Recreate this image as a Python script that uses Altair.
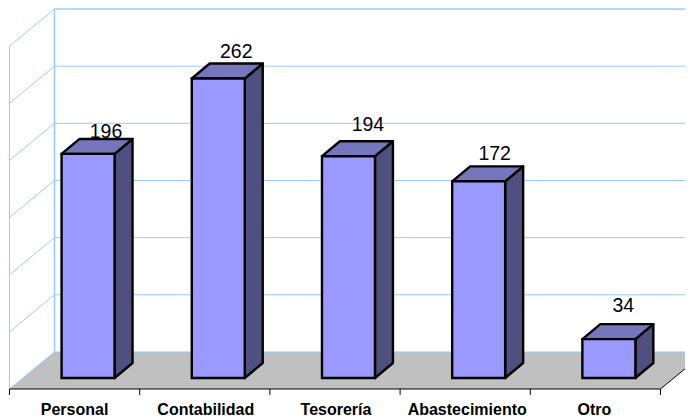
import altair as alt
import pandas as pd

categories = ["Personal", "Contabilidad", "Tesorería", "Abastecimiento", "Otro"]
values = [196, 262, 194, 172, 34]
grid_values = [0, 50, 100, 150, 200, 250]
axis_top = 300

# layout constants, in scale units (slots on x, chart value on y)
BAR_L, BAR_W, BAR_DX, BAR_DY = 0.4, 0.407, 0.138, 13.1
BASE = -22.75
WALL_DX, WALL_DY = 0.3456, 32.4
n = len(categories)

label_dx = [0, 0, 1.5, -2, -3.5]
label_dy = [-7, -11, -16, -12, -18]
cat_dx = [0, 1, 1, 2, -1]

X = alt.Scale(domain=[-0.01152, 5.1882], range=[0, 677], nice=False, zero=False)
Y = alt.Scale(domain=[-56.9, 300.9], range=[409, 0], nice=False, zero=False)
x_ = lambda f: alt.X(f, type="quantitative", scale=X, axis=None)
y_ = lambda f: alt.Y(f, type="quantitative", scale=Y, axis=None)
x2_ = lambda f: alt.X2(f)
y2_ = lambda f: alt.Y2(f)

floor = pd.DataFrame([
    {"y": -WALL_DY, "x": 0, "x2": n},
    {"y": 0, "x": WALL_DX, "x2": n + WALL_DX},
])
front, side, top = [], [], []
for i, (c, v) in enumerate(zip(categories, values)):
    l = i + BAR_L
    r = l + BAR_W
    t = BASE + v
    front.append({"c": c, "x": l, "x2": r, "y": BASE, "y2": t})
    side.append({"c": c, "x": r, "y": BASE, "y2": t})
    side.append({"c": c, "x": r + BAR_DX, "y": BASE + BAR_DY, "y2": t + BAR_DY})
    top.append({"c": c, "y": t, "x": l, "x2": r})
    top.append({"c": c, "y": t + BAR_DY, "x": l + BAR_DX, "x2": r + BAR_DX})
front, side, top = map(pd.DataFrame, (front, side, top))

grid = []
for v in grid_values:
    grid.append({"x": WALL_DX, "x2": n + WALL_DX, "y": v, "y2": v})
    grid.append({"x": 0, "x2": WALL_DX, "y": v - WALL_DY, "y2": v})
grid.append({"x": 0, "x2": WALL_DX, "y": axis_top - WALL_DY, "y2": axis_top})
grid.append({"x": 0, "x2": 0, "y": -WALL_DY, "y2": axis_top - WALL_DY})
grid = pd.DataFrame(grid)

heavy = pd.DataFrame([
    {"x": WALL_DX, "x2": n + WALL_DX, "y": axis_top, "y2": axis_top},
    {"x": WALL_DX, "x2": WALL_DX, "y": 0, "y2": axis_top},
])

axis_lines = [
    {"x": 0, "x2": n, "y": -WALL_DY, "y2": -WALL_DY},
    {"x": n, "x2": n + WALL_DX, "y": -WALL_DY, "y2": 0},
]
for i in range(n + 1):
    axis_lines.append({"x": i, "x2": i, "y": -WALL_DY, "y2": -WALL_DY - 5.2})
axis_lines = pd.DataFrame(axis_lines)


def rules(df, color, w):
    return alt.Chart(df).mark_rule(color=color, strokeWidth=w).encode(
        x=x_("x"), x2=x2_("x2"), y=y_("y"), y2=y2_("y2"))


layers = [
    alt.Chart(floor).mark_area(orient="horizontal", color="#C0C0C0").encode(
        y=y_("y"), x=x_("x"), x2=x2_("x2")),
    rules(grid, "#99CCFF", 1),
    rules(heavy, "#99CCFF", 1.6),
    rules(axis_lines, "#000000", 1),
    alt.Chart(side).mark_area(color="#4F4F80", stroke="#000000", strokeWidth=2.4, strokeJoin="round").encode(
        x=x_("x"), y=y_("y"), y2=y2_("y2"), detail="c:N"),
    alt.Chart(top).mark_area(orient="horizontal", color="#7676BC", stroke="#000000", strokeWidth=2.4, strokeJoin="round").encode(
        y=y_("y"), x=x_("x"), x2=x2_("x2"), detail="c:N"),
    alt.Chart(front).mark_rect(color="#9999FF", stroke="#000000", strokeWidth=2.4).encode(
        x=x_("x"), x2=x2_("x2"), y=y_("y"), y2=y2_("y2")),
]

for i, (c, v) in enumerate(zip(categories, values)):
    d = pd.DataFrame([{"x": i + BAR_L + BAR_W / 2 + BAR_DX, "y": BASE + v + BAR_DY, "t": str(v)}])
    layers.append(alt.Chart(d).mark_text(
        font="Liberation Sans", fontSize=19.5, color="#000000",
        dx=label_dx[i], dy=label_dy[i], baseline="middle", align="center",
    ).encode(x=x_("x"), y=y_("y"), text="t:N"))
    d2 = pd.DataFrame([{"x": i + 0.5, "y": -51.2, "t": c}])
    layers.append(alt.Chart(d2).mark_text(
        font="Liberation Sans", fontSize=16, fontWeight="bold", color="#000000",
        dx=cat_dx[i], baseline="middle", align="center",
    ).encode(x=x_("x"), y=y_("y"), text="t:N"))

chart = alt.layer(*layers).properties(
    width=677, height=409, padding=0,
    autosize=alt.AutoSizeParams(type="none"),
).configure_view(stroke=None)

chart.save("out.html", embed_options={"renderer": "svg", "actions": False})
